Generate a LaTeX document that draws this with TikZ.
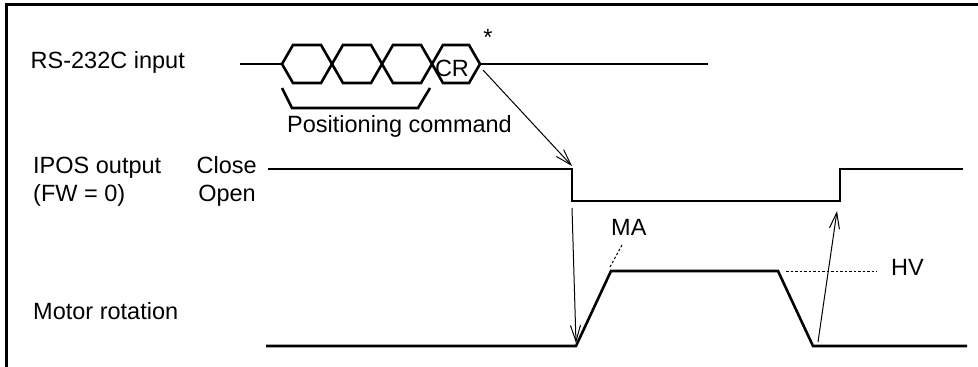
\documentclass[tikz,border=0pt]{standalone}
\usepackage{fontspec}
\setmainfont{Liberation Sans}
\usetikzlibrary{arrows.meta}
\begin{document}
\begin{tikzpicture}[x=1pt,y=-1pt,
  wave/.style={line width=2.6pt, line join=miter},
  frameline/.style={line width=3pt},
  thinarrow/.style={line width=1pt, -{Straight Barb[length=16pt,width=10pt,line width=1pt]}},
  guide/.style={line width=1pt, dash pattern=on 2.5pt off 2pt},
  lbl/.style={inner sep=0pt, font=\fontsize{23.5pt}{28pt}\selectfont}]
\useasboundingbox (0,0) rectangle (978,367);
% frame
\coordinate (fTL) at (6.5,4.7);
\coordinate (fTR) at (978,4.7);
\coordinate (fBL) at (6.5,367);
\draw[frameline] (fTR) -- (fTL) -- (fBL);

% labels
\node[lbl, anchor=base west] (rs) at (30.5,68) {RS-232C input};
\node[lbl, anchor=base west] (ipos) at (33,173) {IPOS output};
\node[lbl, anchor=base west] (fw) at (33,201) {(FW = 0)};
\node[lbl, anchor=base east] (close) at (257,173) {Close};
\node[lbl, anchor=base east] (open) at (256,201) {Open};
\node[lbl, anchor=base west] (motor) at (33,319) {Motor rotation};
\node[lbl, anchor=base] (poscmd) at (399.5,132) {Positioning command};
\node[lbl, anchor=base] (cr) at (452,76) {CR};
\node[lbl, anchor=base] (star) at (488,45.5) {*};
\node[lbl, anchor=base west] (ma) at (611,235) {MA};
\node[lbl, anchor=base west] (hv) at (891,275) {HV};

% RS-232C line with data hexagons
\coordinate (r0) at (240,64);
\coordinate (h1) at (282,64);
\coordinate (h2) at (332,64);
\coordinate (h3) at (382,64);
\coordinate (h4) at (432,64);
\coordinate (h5) at (480,64);
\coordinate (r1) at (708,64);
\draw[wave] (r0) -- (h1);
\draw[wave] (h5) -- (r1);
\foreach \a/\b in {h1/h2,h2/h3,h3/h4,h4/h5}{
  \draw[wave] (\a) -- ([xshift=11pt,yshift=19pt]\a) -- ([xshift=-11pt,yshift=19pt]\b)
    -- (\b) -- ([xshift=-11pt,yshift=-19pt]\b) -- ([xshift=11pt,yshift=-19pt]\a) -- cycle;
}
% bracket
\coordinate (b1) at (282,88);
\coordinate (b2) at (292,108);
\coordinate (b3) at (418,108);
\coordinate (b4) at (430,88);
\draw[wave] (b1) -- (b2) -- (b3) -- (b4);

% IPOS output
\coordinate (i0) at (268,169);
\coordinate (i1) at (572,169);
\coordinate (i2) at (572,201);
\coordinate (i3) at (840,201);
\coordinate (i4) at (840,169);
\coordinate (i5) at (963,169);
\draw[wave] (i0) -- (i1) -- (i2) -- (i3) -- (i4) -- (i5);

% motor rotation
\coordinate (m0) at (266,346);
\coordinate (m1) at (576,346);
\coordinate (m2) at (611,271);
\coordinate (m3) at (778,271);
\coordinate (m4) at (813,346);
\coordinate (m5) at (967,346);
\draw[wave] (m0) -- (m1) -- (m2) -- (m3) -- (m4) -- (m5);

% guides
\coordinate (ma1) at (622,245);
\coordinate (ma2) at (610,267);
\draw[guide] (ma1) -- (ma2);
\coordinate (hv1) at (786,271);
\coordinate (hv2) at (877,271);
\draw[guide] (hv1) -- (hv2);

% arrows
\coordinate (a1s) at (483,70);
\coordinate (a1e) at (572,166);
\draw[thinarrow] (a1s) -- (a1e);
\coordinate (a2s) at (572,208);
\coordinate (a2e) at (576,343);
\draw[thinarrow] (a2s) -- (a2e);
\coordinate (a3s) at (818,342);
\coordinate (a3e) at (837,211);
\draw[thinarrow] (a3s) -- (a3e);
\end{tikzpicture}
\end{document}
